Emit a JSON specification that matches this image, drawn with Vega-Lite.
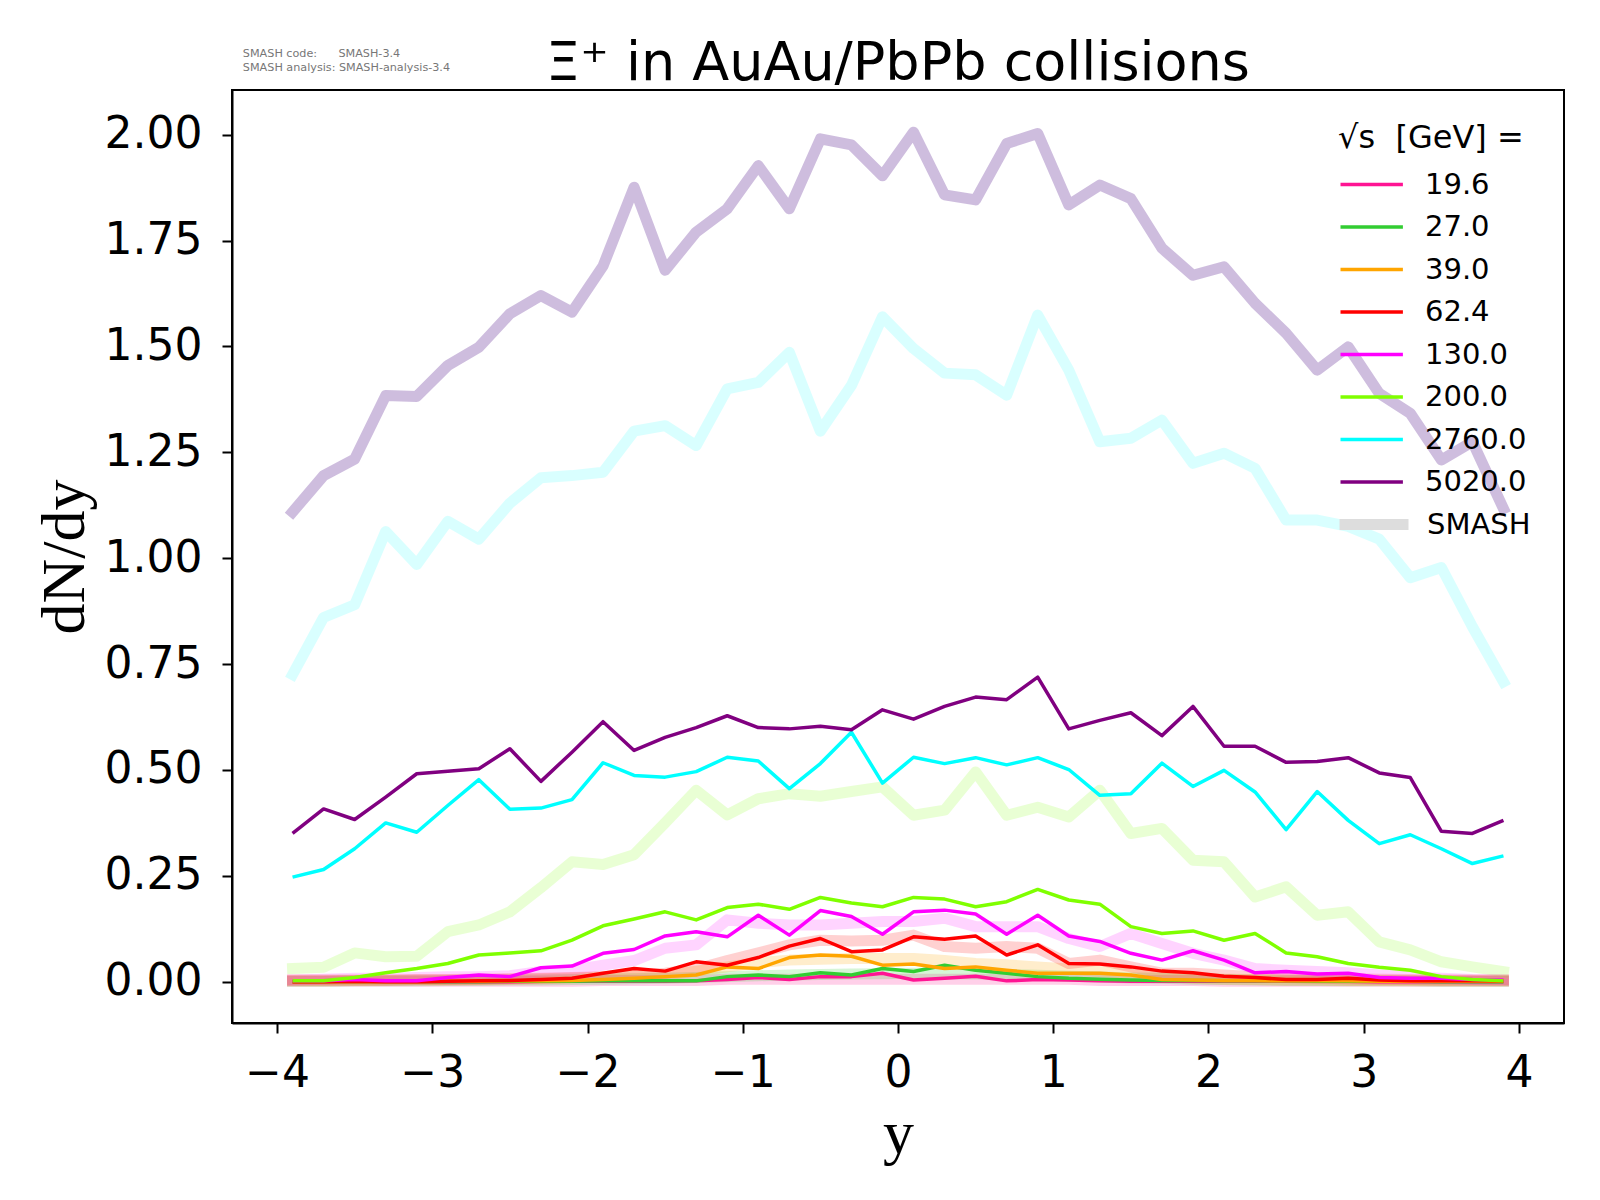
{
  "$schema": "https://vega.github.io/schema/vega-lite/v6.json",
  "width": 1332,
  "height": 933,
  "autosize": {"type": "none"},
  "padding": {"left": 232, "top": 90, "right": 36, "bottom": 177},
  "background": "white",
  "title": {
    "text": "Ξ⁺ in AuAu/PbPb collisions",
    "font": "DejaVu Sans",
    "fontSize": 54,
    "fontWeight": "normal",
    "color": "black",
    "anchor": "middle",
    "offset": -43
  },
  "data": {
    "values": [
      {"energy": "19.6", "y": -3.9, "dNdy": 0, "smash": 0.001},
      {"energy": "19.6", "y": -3.7, "dNdy": 0, "smash": 0.001},
      {"energy": "19.6", "y": -3.5, "dNdy": 0, "smash": 0.001},
      {"energy": "19.6", "y": -3.3, "dNdy": 0, "smash": 0.001},
      {"energy": "19.6", "y": -3.1, "dNdy": 0, "smash": 0.001},
      {"energy": "19.6", "y": -2.9, "dNdy": 0, "smash": 0.001},
      {"energy": "19.6", "y": -2.7, "dNdy": 0, "smash": 0.001},
      {"energy": "19.6", "y": -2.5, "dNdy": 0, "smash": 0.001},
      {"energy": "19.6", "y": -2.3, "dNdy": 0.001, "smash": 0.001},
      {"energy": "19.6", "y": -2.1, "dNdy": 0.001, "smash": 0.001},
      {"energy": "19.6", "y": -1.9, "dNdy": 0.001, "smash": 0.003},
      {"energy": "19.6", "y": -1.7, "dNdy": 0.001, "smash": 0.003},
      {"energy": "19.6", "y": -1.5, "dNdy": 0.001, "smash": 0.003},
      {"energy": "19.6", "y": -1.3, "dNdy": 0.002, "smash": 0.003},
      {"energy": "19.6", "y": -1.1, "dNdy": 0.005, "smash": 0.006},
      {"energy": "19.6", "y": -0.9, "dNdy": 0.01, "smash": 0.006},
      {"energy": "19.6", "y": -0.7, "dNdy": 0.005, "smash": 0.006},
      {"energy": "19.6", "y": -0.5, "dNdy": 0.012, "smash": 0.006},
      {"energy": "19.6", "y": -0.3, "dNdy": 0.012, "smash": 0.006},
      {"energy": "19.6", "y": -0.1, "dNdy": 0.02, "smash": 0.006},
      {"energy": "19.6", "y": 0.1, "dNdy": 0.004, "smash": 0.006},
      {"energy": "19.6", "y": 0.3, "dNdy": 0.008, "smash": 0.006},
      {"energy": "19.6", "y": 0.5, "dNdy": 0.013, "smash": 0.006},
      {"energy": "19.6", "y": 0.7, "dNdy": 0.002, "smash": 0.006},
      {"energy": "19.6", "y": 0.9, "dNdy": 0.005, "smash": 0.006},
      {"energy": "19.6", "y": 1.1, "dNdy": 0.004, "smash": 0.006},
      {"energy": "19.6", "y": 1.3, "dNdy": 0.002, "smash": 0.003},
      {"energy": "19.6", "y": 1.5, "dNdy": 0.001, "smash": 0.003},
      {"energy": "19.6", "y": 1.7, "dNdy": 0.001, "smash": 0.003},
      {"energy": "19.6", "y": 1.9, "dNdy": 0.001, "smash": 0.003},
      {"energy": "19.6", "y": 2.1, "dNdy": 0.001, "smash": 0.001},
      {"energy": "19.6", "y": 2.3, "dNdy": 0.001, "smash": 0.001},
      {"energy": "19.6", "y": 2.5, "dNdy": 0.001, "smash": 0.001},
      {"energy": "19.6", "y": 2.7, "dNdy": 0.001, "smash": 0.001},
      {"energy": "19.6", "y": 2.9, "dNdy": 0.001, "smash": 0.001},
      {"energy": "19.6", "y": 3.1, "dNdy": 0, "smash": 0.001},
      {"energy": "19.6", "y": 3.3, "dNdy": 0, "smash": 0.001},
      {"energy": "19.6", "y": 3.5, "dNdy": 0, "smash": 0.001},
      {"energy": "19.6", "y": 3.7, "dNdy": 0, "smash": 0.001},
      {"energy": "19.6", "y": 3.9, "dNdy": 0, "smash": 0.001},

      {"energy": "27.0", "y": -3.9, "dNdy": 0, "smash": 0.001},
      {"energy": "27.0", "y": -3.7, "dNdy": 0, "smash": 0.001},
      {"energy": "27.0", "y": -3.5, "dNdy": 0, "smash": 0.002},
      {"energy": "27.0", "y": -3.3, "dNdy": 0, "smash": 0.002},
      {"energy": "27.0", "y": -3.1, "dNdy": 0, "smash": 0.002},
      {"energy": "27.0", "y": -2.9, "dNdy": 0, "smash": 0.003},
      {"energy": "27.0", "y": -2.7, "dNdy": 0, "smash": 0.003},
      {"energy": "27.0", "y": -2.5, "dNdy": 0.001, "smash": 0.004},
      {"energy": "27.0", "y": -2.3, "dNdy": 0.001, "smash": 0.004},
      {"energy": "27.0", "y": -2.1, "dNdy": 0.001, "smash": 0.005},
      {"energy": "27.0", "y": -1.9, "dNdy": 0.002, "smash": 0.006},
      {"energy": "27.0", "y": -1.7, "dNdy": 0.002, "smash": 0.007},
      {"energy": "27.0", "y": -1.5, "dNdy": 0.002, "smash": 0.008},
      {"energy": "27.0", "y": -1.3, "dNdy": 0.002, "smash": 0.01},
      {"energy": "27.0", "y": -1.1, "dNdy": 0.012, "smash": 0.012},
      {"energy": "27.0", "y": -0.9, "dNdy": 0.016, "smash": 0.014},
      {"energy": "27.0", "y": -0.7, "dNdy": 0.012, "smash": 0.016},
      {"energy": "27.0", "y": -0.5, "dNdy": 0.021, "smash": 0.017},
      {"energy": "27.0", "y": -0.3, "dNdy": 0.016, "smash": 0.018},
      {"energy": "27.0", "y": -0.1, "dNdy": 0.031, "smash": 0.019},
      {"energy": "27.0", "y": 0.1, "dNdy": 0.024, "smash": 0.02},
      {"energy": "27.0", "y": 0.3, "dNdy": 0.039, "smash": 0.019},
      {"energy": "27.0", "y": 0.5, "dNdy": 0.027, "smash": 0.018},
      {"energy": "27.0", "y": 0.7, "dNdy": 0.02, "smash": 0.017},
      {"energy": "27.0", "y": 0.9, "dNdy": 0.012, "smash": 0.015},
      {"energy": "27.0", "y": 1.1, "dNdy": 0.008, "smash": 0.013},
      {"energy": "27.0", "y": 1.3, "dNdy": 0.006, "smash": 0.011},
      {"energy": "27.0", "y": 1.5, "dNdy": 0.004, "smash": 0.009},
      {"energy": "27.0", "y": 1.7, "dNdy": 0.003, "smash": 0.008},
      {"energy": "27.0", "y": 1.9, "dNdy": 0.003, "smash": 0.006},
      {"energy": "27.0", "y": 2.1, "dNdy": 0.002, "smash": 0.005},
      {"energy": "27.0", "y": 2.3, "dNdy": 0.002, "smash": 0.004},
      {"energy": "27.0", "y": 2.5, "dNdy": 0.002, "smash": 0.003},
      {"energy": "27.0", "y": 2.7, "dNdy": 0.001, "smash": 0.003},
      {"energy": "27.0", "y": 2.9, "dNdy": 0.001, "smash": 0.002},
      {"energy": "27.0", "y": 3.1, "dNdy": 0.001, "smash": 0.002},
      {"energy": "27.0", "y": 3.3, "dNdy": 0.001, "smash": 0.002},
      {"energy": "27.0", "y": 3.5, "dNdy": 0, "smash": 0.001},
      {"energy": "27.0", "y": 3.7, "dNdy": 0, "smash": 0.001},
      {"energy": "27.0", "y": 3.9, "dNdy": 0, "smash": 0.001},

      {"energy": "39.0", "y": -3.9, "dNdy": 0, "smash": 0.002},
      {"energy": "39.0", "y": -3.7, "dNdy": 0, "smash": 0.002},
      {"energy": "39.0", "y": -3.5, "dNdy": 0, "smash": 0.003},
      {"energy": "39.0", "y": -3.3, "dNdy": 0, "smash": 0.003},
      {"energy": "39.0", "y": -3.1, "dNdy": 0, "smash": 0.004},
      {"energy": "39.0", "y": -2.9, "dNdy": 0.001, "smash": 0.004},
      {"energy": "39.0", "y": -2.7, "dNdy": 0.001, "smash": 0.005},
      {"energy": "39.0", "y": -2.5, "dNdy": 0.002, "smash": 0.006},
      {"energy": "39.0", "y": -2.3, "dNdy": 0.002, "smash": 0.007},
      {"energy": "39.0", "y": -2.1, "dNdy": 0.003, "smash": 0.009},
      {"energy": "39.0", "y": -1.9, "dNdy": 0.005, "smash": 0.011},
      {"energy": "39.0", "y": -1.7, "dNdy": 0.008, "smash": 0.014},
      {"energy": "39.0", "y": -1.5, "dNdy": 0.012, "smash": 0.016},
      {"energy": "39.0", "y": -1.3, "dNdy": 0.016, "smash": 0.025},
      {"energy": "39.0", "y": -1.1, "dNdy": 0.035, "smash": 0.035},
      {"energy": "39.0", "y": -0.9, "dNdy": 0.031, "smash": 0.045},
      {"energy": "39.0", "y": -0.7, "dNdy": 0.057, "smash": 0.051},
      {"energy": "39.0", "y": -0.5, "dNdy": 0.063, "smash": 0.053},
      {"energy": "39.0", "y": -0.3, "dNdy": 0.06, "smash": 0.055},
      {"energy": "39.0", "y": -0.1, "dNdy": 0.039, "smash": 0.055},
      {"energy": "39.0", "y": 0.1, "dNdy": 0.042, "smash": 0.055},
      {"energy": "39.0", "y": 0.3, "dNdy": 0.031, "smash": 0.05},
      {"energy": "39.0", "y": 0.5, "dNdy": 0.035, "smash": 0.043},
      {"energy": "39.0", "y": 0.7, "dNdy": 0.027, "smash": 0.04},
      {"energy": "39.0", "y": 0.9, "dNdy": 0.02, "smash": 0.035},
      {"energy": "39.0", "y": 1.1, "dNdy": 0.02, "smash": 0.03},
      {"energy": "39.0", "y": 1.3, "dNdy": 0.02, "smash": 0.024},
      {"energy": "39.0", "y": 1.5, "dNdy": 0.016, "smash": 0.02},
      {"energy": "39.0", "y": 1.7, "dNdy": 0.005, "smash": 0.012},
      {"energy": "39.0", "y": 1.9, "dNdy": 0.004, "smash": 0.008},
      {"energy": "39.0", "y": 2.1, "dNdy": 0.003, "smash": 0.006},
      {"energy": "39.0", "y": 2.3, "dNdy": 0.003, "smash": 0.005},
      {"energy": "39.0", "y": 2.5, "dNdy": 0.002, "smash": 0.004},
      {"energy": "39.0", "y": 2.7, "dNdy": 0.002, "smash": 0.004},
      {"energy": "39.0", "y": 2.9, "dNdy": 0.002, "smash": 0.003},
      {"energy": "39.0", "y": 3.1, "dNdy": 0.001, "smash": 0.003},
      {"energy": "39.0", "y": 3.3, "dNdy": 0.001, "smash": 0.002},
      {"energy": "39.0", "y": 3.5, "dNdy": 0.001, "smash": 0.002},
      {"energy": "39.0", "y": 3.7, "dNdy": 0.001, "smash": 0.002},
      {"energy": "39.0", "y": 3.9, "dNdy": 0.001, "smash": 0.002},

      {"energy": "62.4", "y": -3.9, "dNdy": 0, "smash": 0.004},
      {"energy": "62.4", "y": -3.7, "dNdy": 0, "smash": 0.004},
      {"energy": "62.4", "y": -3.5, "dNdy": 0.001, "smash": 0.004},
      {"energy": "62.4", "y": -3.3, "dNdy": 0, "smash": 0.004},
      {"energy": "62.4", "y": -3.1, "dNdy": 0, "smash": 0.005},
      {"energy": "62.4", "y": -2.9, "dNdy": 0.001, "smash": 0.005},
      {"energy": "62.4", "y": -2.7, "dNdy": 0.002, "smash": 0.006},
      {"energy": "62.4", "y": -2.5, "dNdy": 0.003, "smash": 0.007},
      {"energy": "62.4", "y": -2.3, "dNdy": 0.005, "smash": 0.008},
      {"energy": "62.4", "y": -2.1, "dNdy": 0.008, "smash": 0.01},
      {"energy": "62.4", "y": -1.9, "dNdy": 0.02, "smash": 0.012},
      {"energy": "62.4", "y": -1.7, "dNdy": 0.031, "smash": 0.015},
      {"energy": "62.4", "y": -1.5, "dNdy": 0.025, "smash": 0.02},
      {"energy": "62.4", "y": -1.3, "dNdy": 0.047, "smash": 0.03},
      {"energy": "62.4", "y": -1.1, "dNdy": 0.039, "smash": 0.05},
      {"energy": "62.4", "y": -0.9, "dNdy": 0.057, "smash": 0.068},
      {"energy": "62.4", "y": -0.7, "dNdy": 0.084, "smash": 0.087},
      {"energy": "62.4", "y": -0.5, "dNdy": 0.102, "smash": 0.098},
      {"energy": "62.4", "y": -0.3, "dNdy": 0.071, "smash": 0.096},
      {"energy": "62.4", "y": -0.1, "dNdy": 0.075, "smash": 0.098},
      {"energy": "62.4", "y": 0.1, "dNdy": 0.106, "smash": 0.11},
      {"energy": "62.4", "y": 0.3, "dNdy": 0.1, "smash": 0.083},
      {"energy": "62.4", "y": 0.5, "dNdy": 0.108, "smash": 0.079},
      {"energy": "62.4", "y": 0.7, "dNdy": 0.063, "smash": 0.083},
      {"energy": "62.4", "y": 0.9, "dNdy": 0.087, "smash": 0.079},
      {"energy": "62.4", "y": 1.1, "dNdy": 0.043, "smash": 0.043},
      {"energy": "62.4", "y": 1.3, "dNdy": 0.042, "smash": 0.051},
      {"energy": "62.4", "y": 1.5, "dNdy": 0.035, "smash": 0.035},
      {"energy": "62.4", "y": 1.7, "dNdy": 0.025, "smash": 0.02},
      {"energy": "62.4", "y": 1.9, "dNdy": 0.021, "smash": 0.02},
      {"energy": "62.4", "y": 2.1, "dNdy": 0.013, "smash": 0.016},
      {"energy": "62.4", "y": 2.3, "dNdy": 0.01, "smash": 0.012},
      {"energy": "62.4", "y": 2.5, "dNdy": 0.005, "smash": 0.01},
      {"energy": "62.4", "y": 2.7, "dNdy": 0.005, "smash": 0.008},
      {"energy": "62.4", "y": 2.9, "dNdy": 0.008, "smash": 0.007},
      {"energy": "62.4", "y": 3.1, "dNdy": 0.004, "smash": 0.006},
      {"energy": "62.4", "y": 3.3, "dNdy": 0.002, "smash": 0.005},
      {"energy": "62.4", "y": 3.5, "dNdy": 0.002, "smash": 0.004},
      {"energy": "62.4", "y": 3.7, "dNdy": 0.002, "smash": 0.004},
      {"energy": "62.4", "y": 3.9, "dNdy": 0.002, "smash": 0.004},

      {"energy": "130.0", "y": -3.9, "dNdy": 0.002, "smash": 0.004},
      {"energy": "130.0", "y": -3.7, "dNdy": 0.002, "smash": 0.006},
      {"energy": "130.0", "y": -3.5, "dNdy": 0.005, "smash": 0.008},
      {"energy": "130.0", "y": -3.3, "dNdy": 0.002, "smash": 0.008},
      {"energy": "130.0", "y": -3.1, "dNdy": 0.002, "smash": 0.01},
      {"energy": "130.0", "y": -2.9, "dNdy": 0.01, "smash": 0.012},
      {"energy": "130.0", "y": -2.7, "dNdy": 0.016, "smash": 0.012},
      {"energy": "130.0", "y": -2.5, "dNdy": 0.012, "smash": 0.014},
      {"energy": "130.0", "y": -2.3, "dNdy": 0.033, "smash": 0.024},
      {"energy": "130.0", "y": -2.1, "dNdy": 0.037, "smash": 0.027},
      {"energy": "130.0", "y": -1.9, "dNdy": 0.067, "smash": 0.039},
      {"energy": "130.0", "y": -1.7, "dNdy": 0.076, "smash": 0.05},
      {"energy": "130.0", "y": -1.5, "dNdy": 0.108, "smash": 0.079},
      {"energy": "130.0", "y": -1.3, "dNdy": 0.118, "smash": 0.087},
      {"energy": "130.0", "y": -1.1, "dNdy": 0.106, "smash": 0.146},
      {"energy": "130.0", "y": -0.9, "dNdy": 0.157, "smash": 0.138},
      {"energy": "130.0", "y": -0.7, "dNdy": 0.11, "smash": 0.134},
      {"energy": "130.0", "y": -0.5, "dNdy": 0.168, "smash": 0.134},
      {"energy": "130.0", "y": -0.3, "dNdy": 0.154, "smash": 0.138},
      {"energy": "130.0", "y": -0.1, "dNdy": 0.112, "smash": 0.142},
      {"energy": "130.0", "y": 0.1, "dNdy": 0.165, "smash": 0.142},
      {"energy": "130.0", "y": 0.3, "dNdy": 0.169, "smash": 0.15},
      {"energy": "130.0", "y": 0.5, "dNdy": 0.16, "smash": 0.13},
      {"energy": "130.0", "y": 0.7, "dNdy": 0.112, "smash": 0.13},
      {"energy": "130.0", "y": 0.9, "dNdy": 0.157, "smash": 0.13},
      {"energy": "130.0", "y": 1.1, "dNdy": 0.108, "smash": 0.102},
      {"energy": "130.0", "y": 1.3, "dNdy": 0.095, "smash": 0.083},
      {"energy": "130.0", "y": 1.5, "dNdy": 0.067, "smash": 0.114},
      {"energy": "130.0", "y": 1.7, "dNdy": 0.051, "smash": 0.09},
      {"energy": "130.0", "y": 1.9, "dNdy": 0.073, "smash": 0.067},
      {"energy": "130.0", "y": 2.1, "dNdy": 0.051, "smash": 0.051},
      {"energy": "130.0", "y": 2.3, "dNdy": 0.021, "smash": 0.031},
      {"energy": "130.0", "y": 2.5, "dNdy": 0.024, "smash": 0.027},
      {"energy": "130.0", "y": 2.7, "dNdy": 0.018, "smash": 0.024},
      {"energy": "130.0", "y": 2.9, "dNdy": 0.02, "smash": 0.021},
      {"energy": "130.0", "y": 3.1, "dNdy": 0.01, "smash": 0.016},
      {"energy": "130.0", "y": 3.3, "dNdy": 0.008, "smash": 0.012},
      {"energy": "130.0", "y": 3.5, "dNdy": 0.008, "smash": 0.008},
      {"energy": "130.0", "y": 3.7, "dNdy": 0.005, "smash": 0.005},
      {"energy": "130.0", "y": 3.9, "dNdy": 0.004, "smash": 0.004},

      {"energy": "200.0", "y": -3.9, "dNdy": 0.002, "smash": 0.031},
      {"energy": "200.0", "y": -3.7, "dNdy": 0.002, "smash": 0.034},
      {"energy": "200.0", "y": -3.5, "dNdy": 0.01, "smash": 0.068},
      {"energy": "200.0", "y": -3.3, "dNdy": 0.021, "smash": 0.059},
      {"energy": "200.0", "y": -3.1, "dNdy": 0.031, "smash": 0.06},
      {"energy": "200.0", "y": -2.9, "dNdy": 0.043, "smash": 0.118},
      {"energy": "200.0", "y": -2.7, "dNdy": 0.063, "smash": 0.134},
      {"energy": "200.0", "y": -2.5, "dNdy": 0.068, "smash": 0.165},
      {"energy": "200.0", "y": -2.3, "dNdy": 0.073, "smash": 0.222},
      {"energy": "200.0", "y": -2.1, "dNdy": 0.098, "smash": 0.283},
      {"energy": "200.0", "y": -1.9, "dNdy": 0.132, "smash": 0.277},
      {"energy": "200.0", "y": -1.7, "dNdy": 0.148, "smash": 0.3},
      {"energy": "200.0", "y": -1.5, "dNdy": 0.165, "smash": 0.375},
      {"energy": "200.0", "y": -1.3, "dNdy": 0.146, "smash": 0.452},
      {"energy": "200.0", "y": -1.1, "dNdy": 0.175, "smash": 0.394},
      {"energy": "200.0", "y": -0.9, "dNdy": 0.183, "smash": 0.432},
      {"energy": "200.0", "y": -0.7, "dNdy": 0.171, "smash": 0.444},
      {"energy": "200.0", "y": -0.5, "dNdy": 0.199, "smash": 0.438},
      {"energy": "200.0", "y": -0.3, "dNdy": 0.186, "smash": 0.449},
      {"energy": "200.0", "y": -0.1, "dNdy": 0.177, "smash": 0.46},
      {"energy": "200.0", "y": 0.1, "dNdy": 0.199, "smash": 0.393},
      {"energy": "200.0", "y": 0.3, "dNdy": 0.195, "smash": 0.405},
      {"energy": "200.0", "y": 0.5, "dNdy": 0.177, "smash": 0.495},
      {"energy": "200.0", "y": 0.7, "dNdy": 0.189, "smash": 0.393},
      {"energy": "200.0", "y": 0.9, "dNdy": 0.218, "smash": 0.412},
      {"energy": "200.0", "y": 1.1, "dNdy": 0.193, "smash": 0.389},
      {"energy": "200.0", "y": 1.3, "dNdy": 0.183, "smash": 0.452},
      {"energy": "200.0", "y": 1.5, "dNdy": 0.13, "smash": 0.35},
      {"energy": "200.0", "y": 1.7, "dNdy": 0.114, "smash": 0.362},
      {"energy": "200.0", "y": 1.9, "dNdy": 0.12, "smash": 0.287},
      {"energy": "200.0", "y": 2.1, "dNdy": 0.098, "smash": 0.283},
      {"energy": "200.0", "y": 2.3, "dNdy": 0.114, "smash": 0.2},
      {"energy": "200.0", "y": 2.5, "dNdy": 0.068, "smash": 0.224},
      {"energy": "200.0", "y": 2.7, "dNdy": 0.059, "smash": 0.157},
      {"energy": "200.0", "y": 2.9, "dNdy": 0.043, "smash": 0.165},
      {"energy": "200.0", "y": 3.1, "dNdy": 0.034, "smash": 0.094},
      {"energy": "200.0", "y": 3.3, "dNdy": 0.027, "smash": 0.075},
      {"energy": "200.0", "y": 3.5, "dNdy": 0.012, "smash": 0.047},
      {"energy": "200.0", "y": 3.7, "dNdy": 0.005, "smash": 0.035},
      {"energy": "200.0", "y": 3.9, "dNdy": 0.002, "smash": 0.024},

      {"energy": "2760.0", "y": -3.9, "dNdy": 0.247, "smash": 0.725},
      {"energy": "2760.0", "y": -3.7, "dNdy": 0.265, "smash": 0.86},
      {"energy": "2760.0", "y": -3.5, "dNdy": 0.314, "smash": 0.89},
      {"energy": "2760.0", "y": -3.3, "dNdy": 0.375, "smash": 1.063},
      {"energy": "2760.0", "y": -3.1, "dNdy": 0.353, "smash": 0.985},
      {"energy": "2760.0", "y": -2.9, "dNdy": 0.416, "smash": 1.087},
      {"energy": "2760.0", "y": -2.7, "dNdy": 0.477, "smash": 1.045},
      {"energy": "2760.0", "y": -2.5, "dNdy": 0.407, "smash": 1.13},
      {"energy": "2760.0", "y": -2.3, "dNdy": 0.41, "smash": 1.19},
      {"energy": "2760.0", "y": -2.1, "dNdy": 0.43, "smash": 1.195},
      {"energy": "2760.0", "y": -1.9, "dNdy": 0.517, "smash": 1.203},
      {"energy": "2760.0", "y": -1.7, "dNdy": 0.487, "smash": 1.3},
      {"energy": "2760.0", "y": -1.5, "dNdy": 0.483, "smash": 1.313},
      {"energy": "2760.0", "y": -1.3, "dNdy": 0.496, "smash": 1.266},
      {"energy": "2760.0", "y": -1.1, "dNdy": 0.53, "smash": 1.4},
      {"energy": "2760.0", "y": -0.9, "dNdy": 0.521, "smash": 1.415},
      {"energy": "2760.0", "y": -0.7, "dNdy": 0.456, "smash": 1.486},
      {"energy": "2760.0", "y": -0.5, "dNdy": 0.515, "smash": 1.3},
      {"energy": "2760.0", "y": -0.3, "dNdy": 0.589, "smash": 1.408},
      {"energy": "2760.0", "y": -0.1, "dNdy": 0.469, "smash": 1.57},
      {"energy": "2760.0", "y": 0.1, "dNdy": 0.53, "smash": 1.495},
      {"energy": "2760.0", "y": 0.3, "dNdy": 0.515, "smash": 1.437},
      {"energy": "2760.0", "y": 0.5, "dNdy": 0.529, "smash": 1.433},
      {"energy": "2760.0", "y": 0.7, "dNdy": 0.512, "smash": 1.385},
      {"energy": "2760.0", "y": 0.9, "dNdy": 0.529, "smash": 1.574},
      {"energy": "2760.0", "y": 1.1, "dNdy": 0.501, "smash": 1.444},
      {"energy": "2760.0", "y": 1.3, "dNdy": 0.44, "smash": 1.275},
      {"energy": "2760.0", "y": 1.5, "dNdy": 0.444, "smash": 1.283},
      {"energy": "2760.0", "y": 1.7, "dNdy": 0.516, "smash": 1.326},
      {"energy": "2760.0", "y": 1.9, "dNdy": 0.461, "smash": 1.224},
      {"energy": "2760.0", "y": 2.1, "dNdy": 0.499, "smash": 1.248},
      {"energy": "2760.0", "y": 2.3, "dNdy": 0.448, "smash": 1.212},
      {"energy": "2760.0", "y": 2.5, "dNdy": 0.359, "smash": 1.09},
      {"energy": "2760.0", "y": 2.7, "dNdy": 0.449, "smash": 1.09},
      {"energy": "2760.0", "y": 2.9, "dNdy": 0.381, "smash": 1.075},
      {"energy": "2760.0", "y": 3.1, "dNdy": 0.326, "smash": 1.045},
      {"energy": "2760.0", "y": 3.3, "dNdy": 0.347, "smash": 0.954},
      {"energy": "2760.0", "y": 3.5, "dNdy": 0.314, "smash": 0.978},
      {"energy": "2760.0", "y": 3.7, "dNdy": 0.279, "smash": 0.838},
      {"energy": "2760.0", "y": 3.9, "dNdy": 0.297, "smash": 0.708},

      {"energy": "5020.0", "y": -3.9, "dNdy": 0.35, "smash": 1.109},
      {"energy": "5020.0", "y": -3.7, "dNdy": 0.408, "smash": 1.195},
      {"energy": "5020.0", "y": -3.5, "dNdy": 0.383, "smash": 1.234},
      {"energy": "5020.0", "y": -3.3, "dNdy": 0.436, "smash": 1.384},
      {"energy": "5020.0", "y": -3.1, "dNdy": 0.491, "smash": 1.382},
      {"energy": "5020.0", "y": -2.9, "dNdy": 0.497, "smash": 1.455},
      {"energy": "5020.0", "y": -2.7, "dNdy": 0.503, "smash": 1.498},
      {"energy": "5020.0", "y": -2.5, "dNdy": 0.55, "smash": 1.577},
      {"energy": "5020.0", "y": -2.3, "dNdy": 0.473, "smash": 1.62},
      {"energy": "5020.0", "y": -2.1, "dNdy": 0.542, "smash": 1.581},
      {"energy": "5020.0", "y": -1.9, "dNdy": 0.614, "smash": 1.69},
      {"energy": "5020.0", "y": -1.7, "dNdy": 0.546, "smash": 1.876},
      {"energy": "5020.0", "y": -1.5, "dNdy": 0.577, "smash": 1.68},
      {"energy": "5020.0", "y": -1.3, "dNdy": 0.6, "smash": 1.77},
      {"energy": "5020.0", "y": -1.1, "dNdy": 0.628, "smash": 1.825},
      {"energy": "5020.0", "y": -0.9, "dNdy": 0.6, "smash": 1.927},
      {"energy": "5020.0", "y": -0.7, "dNdy": 0.597, "smash": 1.825},
      {"energy": "5020.0", "y": -0.5, "dNdy": 0.603, "smash": 1.99},
      {"energy": "5020.0", "y": -0.3, "dNdy": 0.595, "smash": 1.976},
      {"energy": "5020.0", "y": -0.1, "dNdy": 0.642, "smash": 1.903},
      {"energy": "5020.0", "y": 0.1, "dNdy": 0.62, "smash": 2.006},
      {"energy": "5020.0", "y": 0.3, "dNdy": 0.65, "smash": 1.858},
      {"energy": "5020.0", "y": 0.5, "dNdy": 0.672, "smash": 1.846},
      {"energy": "5020.0", "y": 0.7, "dNdy": 0.666, "smash": 1.979},
      {"energy": "5020.0", "y": 0.9, "dNdy": 0.719, "smash": 2.003},
      {"energy": "5020.0", "y": 1.1, "dNdy": 0.597, "smash": 1.834},
      {"energy": "5020.0", "y": 1.3, "dNdy": 0.617, "smash": 1.881},
      {"energy": "5020.0", "y": 1.5, "dNdy": 0.635, "smash": 1.849},
      {"energy": "5020.0", "y": 1.7, "dNdy": 0.581, "smash": 1.732},
      {"energy": "5020.0", "y": 1.9, "dNdy": 0.65, "smash": 1.668},
      {"energy": "5020.0", "y": 2.1, "dNdy": 0.556, "smash": 1.688},
      {"energy": "5020.0", "y": 2.3, "dNdy": 0.556, "smash": 1.602},
      {"energy": "5020.0", "y": 2.5, "dNdy": 0.518, "smash": 1.531},
      {"energy": "5020.0", "y": 2.7, "dNdy": 0.52, "smash": 1.444},
      {"energy": "5020.0", "y": 2.9, "dNdy": 0.529, "smash": 1.499},
      {"energy": "5020.0", "y": 3.1, "dNdy": 0.493, "smash": 1.389},
      {"energy": "5020.0", "y": 3.3, "dNdy": 0.482, "smash": 1.342},
      {"energy": "5020.0", "y": 3.5, "dNdy": 0.355, "smash": 1.232},
      {"energy": "5020.0", "y": 3.7, "dNdy": 0.35, "smash": 1.275},
      {"energy": "5020.0", "y": 3.9, "dNdy": 0.381, "smash": 1.117}
    ]
  },
  "layer": [
    {
      "mark": {"type": "line", "strokeJoin": "round", "strokeCap": "square"},
      "encoding": {
        "x": {"field": "y", "type": "quantitative"},
        "y": {"field": "smash", "type": "quantitative"},
        "color": {
          "field": "energy",
          "type": "nominal",
          "scale": {
            "domain": ["19.6", "27.0", "39.0", "62.4", "130.0", "200.0", "2760.0", "5020.0"],
            "range": [
              "rgba(255,20,147,0.2)",
              "rgba(50,205,50,0.2)",
              "rgba(255,165,0,0.2)",
              "rgba(255,0,0,0.18)",
              "rgba(255,0,255,0.17)",
              "rgba(127,255,0,0.17)",
              "rgba(0,255,255,0.15)",
              "rgba(102,51,153,0.32)"
            ]
          },
          "legend": null
        },
        "strokeWidth": {
          "datum": "SMASH",
          "type": "nominal",
          "scale": {"range": [11, 11]},
          "legend": {
            "title": null,
            "orient": "none",
            "legendX": 1102,
            "legendY": 417,
            "padding": 0,
            "labelFont": "DejaVu Sans",
            "labelFontSize": 29,
            "labelColor": "black",
            "symbolType": "M-1,0H4.75",
            "symbolSize": 576,
            "symbolStrokeColor": "#dddddd",
            "symbolOpacity": 1,
            "labelOffset": 58
          }
        }
      }
    },
    {
      "mark": {"type": "line", "strokeWidth": 3.5, "strokeJoin": "round"},
      "encoding": {
        "x": {
          "field": "y",
          "type": "quantitative",
          "title": "y",
          "scale": {"domain": [-4.29, 4.29], "nice": false, "zero": false},
          "axis": {"values": [-4, -3, -2, -1, 0, 1, 2, 3, 4], "format": "d", "labelPadding": 18, "titlePadding": 8}
        },
        "y": {
          "field": "dNdy",
          "type": "quantitative",
          "title": "dN/dy",
          "scale": {"domain": [-0.0975, 2.1055], "nice": false, "zero": false},
          "axis": {"values": [0, 0.25, 0.5, 0.75, 1, 1.25, 1.5, 1.75, 2], "format": ".2f", "labelPadding": 20, "titlePadding": 8}
        },
        "color": {
          "field": "energy",
          "type": "nominal",
          "scale": {
            "domain": ["19.6", "27.0", "39.0", "62.4", "130.0", "200.0", "2760.0", "5020.0"],
            "range": ["#ff1493", "#32cd32", "#ffa500", "#ff0000", "#ff00ff", "#7fff00", "#00ffff", "#800080"]
          },
          "legend": {
            "title": "√s\u00a0\u00a0[GeV] =",
            "orient": "none",
            "legendX": 1106,
            "legendY": 33,
            "padding": 0,
            "titleFont": "DejaVu Sans",
            "titleFontSize": 32,
            "titleFontWeight": "normal",
            "titleColor": "black",
            "titleLimit": 400,
            "titlePadding": 15,
            "labelFont": "DejaVu Sans",
            "labelFontSize": 29,
            "labelColor": "black",
            "symbolType": "M-1,0H4.2",
            "symbolSize": 576,
            "symbolStrokeWidth": 3.5,
            "labelOffset": 58,
            "rowPadding": 12.5
          }
        }
      }
    },
    {
      "data": {"values": [{}]},
      "mark": {"type": "text", "align": "left", "baseline": "middle", "fontSize": 11.2, "lineHeight": 14, "color": "#777777", "font": "DejaVu Sans"},
      "encoding": {
        "x": {"datum": -4.22},
        "y": {"datum": 2.19},
        "text": {"value": ["SMASH code:\u00a0\u00a0\u00a0\u00a0\u00a0\u00a0SMASH-3.4", "SMASH analysis: SMASH-analysis-3.4"]}
      }
    }
  ],
  "resolve": {"scale": {"color": "independent"}},
  "config": {
    "font": "DejaVu Sans",
    "view": {"stroke": "black", "strokeWidth": 2},
    "axis": {
      "grid": false,
      "domainColor": "black",
      "domainWidth": 2,
      "tickColor": "black",
      "tickWidth": 2,
      "tickSize": 10,
      "labelFont": "DejaVu Sans",
      "labelFontSize": 44,
      "labelColor": "black",
      "titleFont": "Liberation Serif",
      "titleFontSize": 62,
      "titleFontWeight": "normal",
      "titleColor": "black"
    }
  }
}
